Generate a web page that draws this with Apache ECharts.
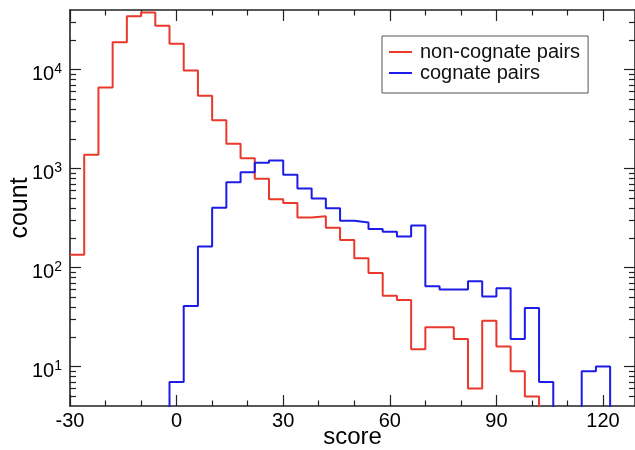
<!DOCTYPE html>
<html><head><meta charset="utf-8">
<script src="https://cdn.jsdelivr.net/npm/echarts@6/dist/echarts.min.js"></script>
<style>html,body{margin:0;padding:0;background:#fff}#c{width:635px;height:450px}</style>
</head><body><div id="c"></div>
<script>
// Histogram bin edges (left edges + final right edge), bin width 4
const redEdges = [-30,-26,-22,-18,-14,-10,-6,-2,2,6,10,14,18,22,26,30,34,38,42,46,50,54,58,62,66,70,74,78,82,86,90,94,98,102];
const redCounts = [135,1380,6600,18900,34500,37800,27800,18200,9800,5450,3080,1780,1270,790,490,450,320,330,252,190,124,88,52,47,15,25,25,19,6,29,16,9,5];
const blueEdges = [-2,2,6,10,14,18,22,26,30,34,38,42,46,50,54,58,62,66,70,74,78,82,86,90,94,98,102,106,110,114,118,122];
const blueCounts = [7,41,163,403,727,918,1143,1205,869,628,498,397,298,285,246,230,206,266,65,60,60,73,51,62,19,39,7,0,0,9,10];
const seriesNames = ['non-cognate pairs','cognate pairs'];
const xMajorTicks = [-30,0,30,60,90,120];
const xMinorTicks = [-20,-10,10,20,40,50,70,80,100,110];
const yMajorTicks = [10,100,1000,10000];
const yMinorTicks = [5,6,7,8,9,20,30,40,50,60,70,80,90,200,300,400,500,600,700,800,900,2000,3000,4000,5000,6000,7000,8000,9000,20000,30000];
const xRange = [-30, 129];
const yRange = [4, 40000];

const FLOOR = 1; // below axis minimum: zero counts drop off the plot
function stepData(edges, counts, fromFloor) {
  const pts = [];
  if (fromFloor) pts.push([edges[0], FLOOR]);
  counts.forEach((c, i) => pts.push([edges[i], c > 0 ? c : FLOOR]));
  pts.push([edges[edges.length - 1], FLOOR]);
  return pts;
}

const FONT = 'Liberation Sans, Arial, Helvetica, sans-serif';
const AX = '#222';
const tickStyle = {color: AX, width: 1.2};
function axLine(main) {
  return {show: main, onZero: false, lineStyle: {color: AX, width: 1.6}};
}

function xAx(pos, major, main) {
  return {
    type: 'value', min: xRange[0], max: xRange[1], position: pos,
    axisLine: axLine(main),
    axisTick: {show: true, inside: true, length: major ? 11 : 5.5, customValues: major ? xMajorTicks : xMinorTicks, lineStyle: tickStyle},
    axisLabel: (pos === 'bottom' && major) ? {customValues: xMajorTicks, fontSize: 20, margin: 5, color: '#000', fontFamily: FONT} : {show: false},
    splitLine: {show: false},
    name: (pos === 'bottom' && major) ? 'score' : '',
    nameLocation: 'middle', nameGap: 19, nameMoveOverlap: false,
    nameTextStyle: {fontSize: 24, color: '#000', fontFamily: FONT}
  };
}
function supLabel(v) {
  const e = Math.round(Math.log10(v));
  return '{b|10}{s|' + e + '}';
}
function yAx(pos, major, main) {
  return {
    type: 'log', logBase: 10, min: yRange[0], max: yRange[1], position: pos,
    axisLine: axLine(main),
    axisTick: {show: true, inside: true, length: major ? 11 : 6, customValues: major ? yMajorTicks : yMinorTicks, lineStyle: tickStyle},
    axisLabel: (pos === 'left' && major) ? {
      customValues: yMajorTicks, margin: 8, formatter: supLabel, padding: [10, 0, 0, 0],
      rich: {
        b: {fontSize: 20, lineHeight: 24, color: '#000', fontFamily: FONT},
        s: {fontSize: 14, lineHeight: 14, verticalAlign: 'top', color: '#000', fontFamily: FONT}
      }
    } : {show: false},
    splitLine: {show: false}, minorSplitLine: {show: false},
    name: (pos === 'left' && major) ? 'count' : '',
    nameLocation: 'middle', nameGap: 37, nameMoveOverlap: false,
    nameTextStyle: {fontSize: 25, color: '#000', fontFamily: FONT}
  };
}

const chart = echarts.init(document.getElementById('c'), null, {renderer: 'canvas'});
chart.setOption({
  animation: false,
  backgroundColor: '#fff',
  grid: {left: 70, right: 0, top: 10, bottom: 44, containLabel: false, outerBoundsMode: 'none'},
  xAxis: [xAx('bottom', true, true), xAx('bottom', false, false), xAx('top', true, true), xAx('top', false, false)],
  yAxis: [yAx('left', true, true), yAx('left', false, false), yAx('right', true, true), yAx('right', false, false)],
  legend: {
    orient: 'vertical', left: 382, top: 36,
    padding: [6, 8, 10, 7], itemGap: 1, itemWidth: 23, itemHeight: 10,
    borderColor: '#555', borderWidth: 1,
    textStyle: {fontSize: 20, color: '#111', fontFamily: FONT, padding: [0, 0, 0, 3]},
    data: seriesNames.map(n => ({name: n, icon: 'path://M0,4L23,4L23,6L0,6Z'}))
  },
  series: [
    {name: seriesNames[0], type: 'line', step: 'end', symbol: 'none', clip: true,
     xAxisIndex: 0, yAxisIndex: 0,
     data: stepData(redEdges, redCounts, false),
     lineStyle: {color: '#e8392c', width: 2}, itemStyle: {color: '#e8392c'}},
    {name: seriesNames[1], type: 'line', step: 'end', symbol: 'none', clip: true,
     xAxisIndex: 0, yAxisIndex: 0,
     data: stepData(blueEdges, blueCounts, true),
     lineStyle: {color: '#1c1ce6', width: 2}, itemStyle: {color: '#1c1ce6'}}
  ]
});
</script></body></html>
